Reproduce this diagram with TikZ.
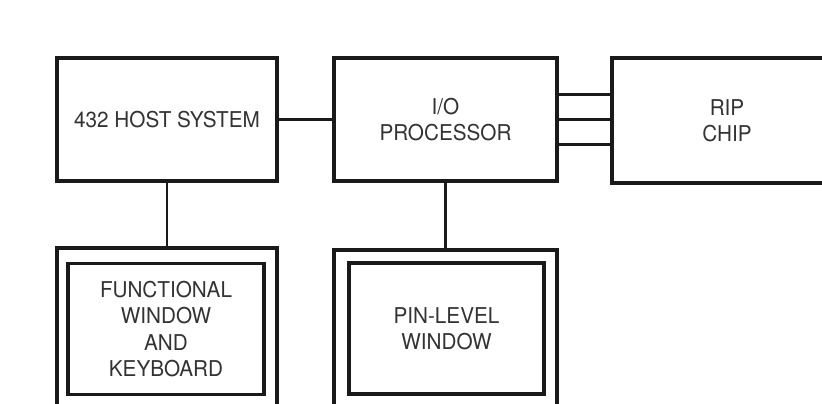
\documentclass[tikz,border=0pt]{standalone}
\usepackage{fontspec}
\setmainfont[FakeStretch=0.95]{TeX Gyre Heros}
\usepackage{xcolor}
\definecolor{ink}{HTML}{1A1A1A}
\definecolor{label}{HTML}{333333}
\usepackage{tikz}
\usetikzlibrary{positioning, calc}

\begin{document}
\begin{tikzpicture}[x=0.025cm, y=-0.025cm,
    every node/.style={font=\fontsize{15.5}{18.8}\selectfont, text=label, align=center},
    block/.style={draw=ink, line width=2.2pt, inner sep=0pt},
    frame/.style={draw=ink, line width=2.4pt, inner sep=0pt},
    wire/.style={draw=ink, line width=1.9pt}]
  \clip (0,0) rectangle (822,403);
  \fill[white] (0,0) rectangle (822,403);

  % Top row
  \node[block, minimum width=5.5cm, minimum height=3.075cm] (host) at (167,119.5) {432 HOST SYSTEM};
  \node[block, minimum width=5.575cm, minimum height=3.075cm] (io) at (445.5,119.5) {I/O\\PROCESSOR};
  \node[block, minimum width=5.75cm, minimum height=3.125cm] (rip) at (727,120.5) {RIP\\CHIP};

  % Windows
  \node[frame, minimum width=5.5cm, minimum height=4.05cm] (fkwframe) at (167,329) {};
  \node[block, minimum width=4.9cm, minimum height=3.275cm] (fkw) at (166,329)
    {FUNCTIONAL\\WINDOW\\AND\\KEYBOARD};
  \node[frame, minimum width=5.575cm, minimum height=4cm] (pinframe) at (445.5,330) {};
  \node[block, minimum width=4.875cm, minimum height=3.275cm] (pin) at (446.5,328.5)
    {PIN-LEVEL\\WINDOW};

  % Connections
  \draw[wire] (host.east) -- (io.west);
  \foreach \dy in {-0.625, 0, 0.625}{
    \draw[wire] ([yshift=\dy cm]io.east) -- ([yshift=\dy cm]io.east -| rip.west);
  }
  \draw[wire] (host.south) -- (fkwframe.north);
  \draw[wire] (io.south) -- (pinframe.north);
\end{tikzpicture}
\end{document}
